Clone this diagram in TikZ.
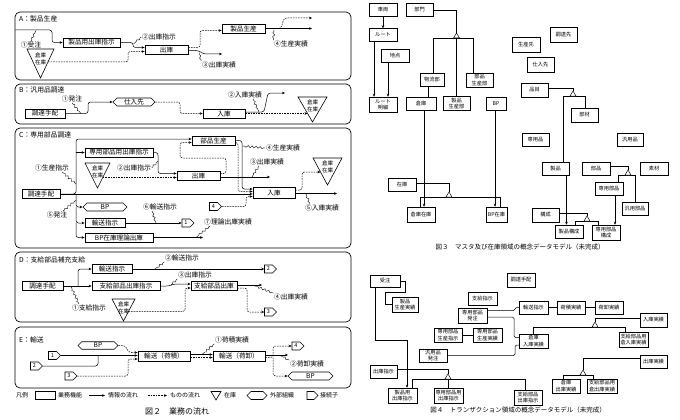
\documentclass[tikz,border=0pt]{standalone}
\usepackage{fontspec}
\setmainfont{Noto Sans CJK JP}
\usetikzlibrary{arrows.meta,shapes.symbols,decorations.pathmorphing}
\newcommand\fsz[2]{\fontsize{#1}{#2}\selectfont}
\begin{document}
\begin{tikzpicture}[x=1pt,y=-1pt,
 panel/.style={draw, line width=0.7pt, rounded corners=5pt},
 ttl/.style={anchor=west, inner sep=0pt, font=\fsz{6.8}{7.5}},
 fn/.style={draw, line width=0.8pt, inner sep=0pt, minimum height=9pt, font=\fsz{6.6}{7.5}},
 ext/.style={draw, line width=0.6pt, signal, signal to=west and east, inner sep=0pt, minimum height=8pt, font=\fsz{6.6}{7.5}},
 con/.style={draw, line width=0.6pt, signal, signal to=east, inner sep=0pt, minimum height=8pt, minimum width=12pt, font=\fsz{5.5}{6}},
 info/.style={line width=0.5pt, rounded corners=2.5pt, -{Stealth[length=3pt,width=2.6pt]}},
 plain/.style={line width=0.5pt, rounded corners=2.5pt},
 thing/.style={info, dash pattern=on 1.6pt off 1pt},
 sq/.style={line width=0.4pt, decorate, decoration={snake, amplitude=1pt, segment length=4pt, pre length=2pt, post length=2pt}},
 lbl/.style={inner sep=0.5pt, font=\fsz{6.8}{7.5}},
 stk/.style={inner sep=0pt, font=\fsz{5.5}{6}},
 stock/.style={draw, line width=0.6pt},
 lg/.style={anchor=west, inner sep=0pt, font=\fsz{6}{6.5}},
 ent/.style={draw, line width=0.5pt, inner sep=0pt, minimum height=13pt, align=center, font=\fsz{5.2}{6.2}},
 ln/.style={line width=0.5pt},
 arr/.style={line width=0.5pt, -{Stealth[length=3pt,width=2.6pt]}},
 gen/.style={draw, line width=0.5pt, fill=white},
 captxt/.style={inner sep=0pt, font=\fsz{6.5}{7}}]
\fill[white] (0,0) rectangle (680,420);
\useasboundingbox (0,0) rectangle (680,420);

% ================= Panel A
\draw[panel] (15,12) rectangle (351,80);
\node[ttl] (tA) at (19,19) {A：製品生産};
\node[fn, minimum width=57pt] (a1) at (91.5,42.5) {製品用出庫指示};
\node[fn, minimum width=43pt] (a2) at (166.5,49.5) {出庫};
\node[fn, minimum width=43pt] (a3) at (243.5,28.5) {製品生産};
\draw[stock] (27,49) -- (54,49) -- (40.5,78) -- cycle;
\node[stk] (sa1) at (40.5,55) {倉庫};
\node[stk] (sa2) at (40.5,62) {在庫};
\coordinate (a0) at (15.3,30);
\draw[info] (a0) -- (52,30) -- (52,42.5) -- (a1.west);
\node[lbl] (la1) at (31,45) {①受注};
\draw[sq] (la1.north) -- (36,30.5);
\draw[info] (a1.east) -- (133,42.5) -- (133,47.5) -- ([yshift=2pt]a2.west);
\node[lbl] (la2) at (159,37) {②出庫指示};
\draw[sq] (la2.west) -- (133.5,44);
\coordinate (sa) at (48,62);
\draw[thing] (sa) -- (128,62) -- (128,51.5) -- ([yshift=-2pt]a2.west);
\draw[thing] ([yshift=2pt]a2.east) -- (200,47.5) -- (200,30.5) -- ([yshift=-2pt]a3.west);
\coordinate (a2o) at (222,54);
\draw[info] ([yshift=-1pt]a2.east) -- (198,50.5) -- (204,54) -- (a2o);
\node[lbl] (la3) at (219,65) {③出庫実績};
\draw[sq] (la3.north west) -- (199,52.5);
\coordinate (a3o1) at (312,18);
\coordinate (a3o2) at (312,28.5);
\draw[thing] (a3.east) -- (281,28.5) -- (284,18) -- (a3o1);
\draw[info] (a3.east) -- (a3o2);
\node[lbl] (la4) at (291,44) {④生産実績};
\draw[sq] (la4.north west) -- (274,29.5);

% ================= Panel B
\draw[panel] (15,84) rectangle (351,124);
\node[ttl] (tB) at (19,90) {B：汎用品調達};
\node[fn, minimum width=40pt] (b1) at (45,113.5) {調達手配};
\node[ext, minimum width=42pt] (b2) at (134,102) {仕入先};
\node[fn, minimum width=42pt] (b3) at (224,113.5) {入庫};
\draw[info] (b1.east) -- (88,113.5) -- (88,102) -- (b2.west);
\node[lbl] (lb1) at (72,99) {①発注};
\draw[sq] (lb1.south) -- (81,113.5);
\draw[thing] (b2.east) -- (180,102) -- (180,113.5) -- (b3.west);
\draw[stock] (298,97) -- (327,97) -- (312.5,122) -- cycle;
\node[stk] (sb1) at (312.5,102) {倉庫};
\node[stk] (sb2) at (312.5,109) {在庫};
\coordinate (sb) at (307.5,113.5);
\draw[thing] (b3.east) -- (sb);
\coordinate (bo) at (285,93);
\draw[info] ([yshift=1.5pt]b3.east) -- (264,112) -- (268,93) -- (bo);
\node[lbl] (lb2) at (245,95) {②入庫実績};
\draw[sq] ([xshift=8pt]lb2.south) -- (259,112);

% ================= Panel C
\draw[panel] (15,128) rectangle (351,248);
\node[ttl] (tC) at (19,135) {C：専用部品調達};
\node[fn, minimum width=38pt] (c1) at (41,194) {調達手配};
\node[fn, minimum width=68pt] (c2) at (119,152.5) {専用部品用出庫指示};
\node[fn, minimum width=43pt] (c3) at (213.5,140.5) {部品生産};
\node[fn, minimum width=43pt] (c4) at (198.5,175.5) {出庫};
\node[fn, minimum width=42pt, minimum height=11pt] (c5) at (274,192.5) {入庫};
\node[ext, minimum width=44pt] (c6) at (105,207) {BP};
\node[fn, minimum width=40pt] (c7) at (105,223) {輸送指示};
\node[fn, minimum width=68pt] (c8) at (119,237.5) {BP在庫理論出庫};
\node[con] (cc1) at (186,223) {1};
\node[con] (cc4) at (213.5,206.5) {4};
\coordinate (cj0) at (76,194);
\coordinate (cj1) at (76,152.5);
\coordinate (cj2) at (76,207);
\coordinate (cj3) at (76,223);
\draw[info] (c1.east) -- (cj0) -- (76,139) -- ([yshift=1.5pt]c3.west);
\draw[info] (cj1) -- (c2.west);
\draw[info] (cj0) -- (cj2) -- (c6.west);
\draw[info] (cj2) -- (cj3) -- (c7.west);
\draw[info] (cj3) -- (76,237.5) -- (c8.west);
\draw[info] (c1.east) -- ([yshift=-1.5pt]c5.west);
\node[lbl] (lc1) at (52,168) {①生産指示};
\draw[sq] ([xshift=10pt]lc1.south) -- (76,184);
\node[lbl] (lc5) at (57,215) {⑤発注};
\draw[sq] ([xshift=6pt]lc5.north) -- (76,200);
\draw[stock] (85,163) -- (110,163) -- (97.5,188) -- cycle;
\node[stk] (sc1) at (97.5,168) {倉庫};
\node[stk] (sc2) at (97.5,175) {在庫};
\node[lbl] (lc2) at (134,168) {②出庫指示};
\draw[sq] (lc2.east) -- (158,161);
\draw[info] (c2.east) -- (158,152.5) -- (158,173.5) -- ([yshift=2pt]c4.west);
\coordinate (sc) at (102.8,177.5);
\draw[thing] (sc) -- ([yshift=-2pt]c4.west);
\draw[thing] ([yshift=2pt]c4.east) -- (226,173.5) -- (226,158) -- (180,158) -- (180,142.5) -- ([yshift=-2pt]c3.west);
\coordinate (c4o) at (270,177);
\draw[info] ([yshift=-1.5pt]c4.east) -- (c4o);
\node[lbl] (lc3) at (267,162) {③出庫実績};
\draw[sq] ([xshift=-8pt]lc3.south) -- (252,177);
\draw[info] (c3.east) -- (242,140.5) -- (242,189) -- ([yshift=3.5pt]c5.west);
\draw[thing] ([yshift=-2pt]c3.east) -- (238,142.5) -- (238,191.5) -- ([yshift=1pt]c5.west);
\draw[thing] (cc4.east) -- (246,206.5) -- (246,196.5) -- ([yshift=-4pt]c5.west);
\node[lbl] (lc4) at (283,148) {④生産実績};
\draw[sq] (lc4.west) -- (242.5,146);
\draw[stock] (313,158) -- (342,158) -- (327.5,185) -- cycle;
\node[stk] (sc3) at (327.5,163) {倉庫};
\node[stk] (sc4) at (327.5,170) {在庫};
\coordinate (sc2) at (320.5,172);
\draw[thing] ([yshift=2.5pt]c5.east) -- (302,190) -- (302,172) -- (sc2);
\coordinate (c5o) at (337,193.5);
\draw[info] ([yshift=-1pt]c5.east) -- (c5o);
\node[lbl] (lc5b) at (322,208) {⑤入庫実績};
\draw[sq] ([xshift=-12pt]lc5b.north) -- (306,194);
\node[lbl] (lc6) at (160,207) {⑥輸送指示};
\draw[sq] ([xshift=-8pt]lc6.south) -- (156,223);
\draw[info] (c7.east) -- (cc1.west);
\coordinate (c8o) at (203,237.5);
\draw[info] (c8.east) -- (c8o);
\node[lbl] (lc7) at (228,222) {⑦理論出庫実績};
\draw[sq] ([xshift=-18pt]lc7.south) -- (196,237.5);

% ================= Panel D
\draw[panel] (15,252) rectangle (351,322);
\node[ttl] (tD) at (19,260) {D：支給部品補充支給};
\node[fn, minimum width=41pt] (d1) at (42.5,286) {調達手配};
\node[fn, minimum width=40pt] (d2) at (112,269) {輸送指示};
\node[fn, minimum width=68pt] (d3) at (126,286) {支給部品出庫指示};
\node[fn, minimum width=46pt] (d4) at (214,286) {支給部品出庫};
\node[con] (dc2) at (268.5,269) {2};
\node[con] (dc3) at (268.5,312) {3};
\coordinate (dj) at (78,286);
\draw[info] (d1.east) -- (d3.west);
\draw[info] (dj) -- (78,269) -- (d2.west);
\node[lbl] (ld1) at (89,308) {①支給指示};
\draw[sq] ([xshift=-10pt]ld1.north) -- (71,286.5);
\draw[stock] (112,299) -- (135,299) -- (123.5,321) -- cycle;
\node[stk] (sd1) at (123.5,304) {倉庫};
\node[stk] (sd2) at (123.5,311) {在庫};
\coordinate (sd) at (128.5,311.5);
\draw[thing] (sd) -- (185,311.5) -- (185,288) -- ([yshift=-2pt]d4.west);
\draw[info] (d3.east) -- (169,286) -- (174,284) -- ([yshift=2pt]d4.west);
\node[lbl] (ld3) at (195,275) {③出庫指示};
\draw[sq] (ld3.south west) -- (171,285);
\draw[info] (d2.east) -- (dc2.west);
\node[lbl] (ld2) at (182,258) {②輸送指示};
\draw[sq] (ld2.south west) -- (155,269);
\coordinate (d4o) at (262,285);
\draw[info] ([yshift=1pt]d4.east) -- (d4o);
\node[lbl] (ld4) at (291,297) {④出庫実績};
\draw[sq] (ld4.north west) -- (254,285.5);
\draw[thing] ([yshift=-2pt]d4.east) -- (247,288) -- (247,312) -- (dc3.west);

% ================= Panel E
\draw[panel] (15,327) rectangle (351,388);
\node[ttl] (tE) at (19,340) {E：輸送};
\node[ext, minimum width=40pt, minimum height=7.5pt] (e1) at (98,345.5) {BP};
\node[con] (ec1) at (52.5,355.5) {1};
\node[con] (ec2) at (34.5,366) {2};
\node[con] (ec3) at (69,376) {3};
\node[fn, minimum width=52pt, minimum height=10pt] (e2) at (164,356) {輸送（荷積）};
\node[fn, minimum width=52pt, minimum height=10pt] (e3) at (239,356) {輸送（荷卸）};
\node[con] (ec4) at (296,346) {4};
\node[ext, minimum width=45pt] (e4) at (310.5,376) {BP};
\coordinate (ej) at (98,355.5);
\draw[info] (ec1.east) -- ([yshift=0.5pt]e2.west);
\draw[plain] (ec2.east) -- (98,366) -- (ej);
\draw[thing] (e1.east) -- (125,345.5) -- (129,352.5) -- ([yshift=3.5pt]e2.west);
\draw[thing] (ec3.east) -- (128,376) -- (128,359) -- ([yshift=-3pt]e2.west);
\draw[info] ([yshift=1.5pt]e2.east) -- ([yshift=1.5pt]e3.west);
\draw[thing] ([yshift=-1.5pt]e2.east) -- ([yshift=-1.5pt]e3.west);
\node[lbl] (le1) at (232,340) {①荷積実績};
\draw[sq] (le1.south west) -- (202,354.5);
\coordinate (ej2) at (273,357.5);
\draw[thing] ([yshift=-1.5pt]e3.east) -- (ej2) -- (273,346) -- (ec4.west);
\draw[thing] (ej2) -- (273,376) -- (e4.west);
\coordinate (e3o) at (288,355);
\draw[info] ([yshift=1pt]e3.east) -- (e3o);
\node[lbl] (le2) at (307,364) {②荷卸実績};
\draw[sq] (le2.north west) -- (280,355.5);

% ================= Legend
\node[lg] (lg0) at (16,395.5) {凡例};
\node[draw, line width=0.7pt, minimum width=20pt, minimum height=8pt, inner sep=0pt] (lg1) at (45,395.5) {};
\node[lg] (lg2) at (58,395.5) {業務機能};
\coordinate (lga) at (89,395.5);
\coordinate (lgb) at (105,395.5);
\draw[info] (lga) -- (lgb);
\node[lg] (lg3) at (108,395.5) {情報の流れ};
\coordinate (lgc) at (148,395.5);
\coordinate (lgd) at (167,395.5);
\draw[thing] (lgc) -- (lgd);
\node[lg] (lg4) at (170,395.5) {ものの流れ};
\draw[stock] (211,391.5) -- (221,391.5) -- (216,400) -- cycle;
\node[lg] (lg5) at (224,395.5) {在庫};
\node[ext, minimum width=20pt, minimum height=8pt] (lg6) at (257,395.5) {};
\node[lg] (lg7) at (270,395.5) {外部組織};
\node[con, minimum width=11pt] (lg8) at (310.5,395.5) {};
\node[lg] (lg9) at (320,395.5) {接続子};
\node[inner sep=0pt, font=\fsz{8}{9}] (cap2) at (177,411) {図２　業務の流れ};

% ================= Fig 3
\node[ent, minimum width=28pt] (m1) at (383,10) {車両};
\node[ent, minimum width=27pt] (m2) at (419.5,10) {部門};
\node[ent, minimum width=28pt] (m3) at (383,35) {ルート};
\node[ent, minimum width=28pt] (m4) at (395,55.5) {地点};
\node[ent, minimum width=28pt, minimum height=15pt] (m5) at (383,104.5) {ルート\\明細};
\node[ent, minimum width=24pt] (m6) at (432,79.5) {物流部};
\node[ent, minimum width=27pt, minimum height=14pt] (m7) at (479.5,80) {部品\\生産部};
\node[ent, minimum width=30pt] (m8) at (421,103.5) {倉庫};
\node[ent, minimum width=27pt, minimum height=14pt] (m9) at (456.5,103.5) {製品\\生産部};
\node[ent, minimum width=20pt] (m10) at (496,103.5) {BP};
\node[ent, minimum width=28pt] (m11) at (402,185) {在庫};
\node[ent, minimum width=28pt, minimum height=15pt] (m12) at (421,214.5) {倉庫在庫};
\node[ent, minimum width=21pt, minimum height=15pt] (m13) at (496.5,214.5) {BP在庫};
\node[ent, minimum width=27pt, minimum height=15pt] (m14) at (563.5,34.5) {調達先};
\node[ent, minimum width=28pt, minimum height=15pt] (m15) at (526,44.5) {生産先};
\node[ent, minimum width=27pt, minimum height=15pt] (m16) at (540.5,64.5) {仕入先};
\node[ent, minimum width=27pt, minimum height=14pt] (m17) at (534.5,90) {品目};
\node[ent, minimum width=27pt, minimum height=14pt] (m18) at (584.5,115) {部材};
\node[ent, minimum width=27pt] (m19) at (535.5,139.5) {専用品};
\node[ent, minimum width=26pt] (m20) at (630,139.5) {汎用品};
\node[ent, minimum width=27pt] (m21) at (555.5,168.5) {製品};
\node[ent, minimum width=28pt] (m22) at (596,168.5) {部品};
\node[ent, minimum width=28pt] (m23) at (654,168.5) {素材};
\node[ent, minimum width=28pt] (m24) at (609,188.5) {専用部品};
\node[ent, minimum width=26pt] (m25) at (635,208.5) {汎用部品};
\node[ent, minimum width=27pt, minimum height=14pt] (m26) at (545.5,215) {構成};
\node[ent, minimum width=28pt] (m27) at (569,231.5) {製品構成};
\node[ent, minimum width=28pt, minimum height=15pt] (m28) at (606,232.5) {専用部品\\構成};
\draw[arr] (m1.south) -- (m3.north);
\draw[arr] ([xshift=-9pt]m3.south) -- ([xshift=-9pt]m3.south |- m5.north);
\draw[arr] ([xshift=-7pt]m4.south) -- ([xshift=-7pt]m4.south |- m5.north);
\coordinate (g1) at (456.5,33);
\coordinate (g1b) at (456.5,38);
\coordinate (g1l) at (433,38);
\coordinate (g1r) at (473,38);
\draw[ln] (m2.east) -| (g1);
\draw[ln] (g1l) -- (g1r);
\draw[ln] (g1l) -- (g1l |- m6.north);
\draw[ln] (g1r) -- (g1r |- m7.north);
\draw[ln] (g1b) -- (m9.north);
\draw[gen] (g1) -- ++(-3,5) -- ++(6,0) -- cycle;
\draw[ln] ([xshift=-4pt]m6.south) -- ([xshift=-4pt]m6.south |- m8.north);
\draw[arr] ([xshift=3pt]m8.south) -- ([xshift=3pt]m8.south |- m12.north);
\draw[arr] ([xshift=-1pt]m10.south) -- ([xshift=-1pt]m10.south |- m13.north);
\coordinate (g2) at (449,192);
\coordinate (g2l) at (420,197);
\coordinate (g2r) at (500,197);
\draw[ln] ([yshift=2pt]m11.east) -| (g2);
\draw[ln] (g2l) -- (g2r);
\draw[ln] (g2l) -- (g2l |- m12.north);
\draw[ln] (g2r) -- (g2r |- m13.north);
\draw[gen] (g2) -- ++(-3,5) -- ++(6,0) -- cycle;
\coordinate (g3) at (573,91);
\coordinate (g3l) at (563,96);
\coordinate (g3r) at (585,96);
\draw[ln] ([yshift=2pt]m17.east) -| (g3);
\draw[ln] (g3l) -- (g3r);
\draw[ln] (g3l) -- (g3l |- m21.north);
\draw[ln] (g3r) -- (g3r |- m18.north);
\draw[gen] (g3) -- ++(-3,5) -- ++(6,0) -- cycle;
\coordinate (g4) at (628,170);
\coordinate (g4l) at (618,175);
\coordinate (g4r) at (635,175);
\draw[ln] ([yshift=2pt]m22.east) -| (g4);
\draw[ln] (g4l) -- (g4r);
\draw[ln] (g4l) -- (g4l |- m24.north);
\draw[ln] (g4r) -- (g4r |- m25.north);
\draw[gen] (g4) -- ++(-3,5) -- ++(6,0) -- cycle;
\coordinate (g5) at (587,216);
\coordinate (g5l) at (575,221);
\coordinate (g5r) at (598,221);
\draw[ln] ([yshift=2pt]m26.east) -| (g5);
\draw[ln] (g5l) -- (g5r);
\draw[ln] (g5l) -- (g5l |- m27.north);
\draw[ln] (g5r) -- (g5r |- m28.north);
\draw[gen] (g5) -- ++(-3,5) -- ++(6,0) -- cycle;
\draw[arr] ([xshift=11pt]m21.south) -- ([xshift=11pt]m21.south |- m27.north);
\draw[arr] ([xshift=6pt]m24.south) -- ([xshift=6pt]m24.south |- m28.north);
\node[captxt] (cap3) at (520,247) {図３　マスタ及び在庫領域の概念データモデル（未完成）};

% ================= Fig 4
\node[ent, minimum width=30pt, minimum height=12pt] (t1) at (385,281) {受注};
\node[ent, minimum width=26pt, minimum height=15pt] (t2) at (405,304.5) {製品\\生産実績};
\node[ent, minimum width=28pt, minimum height=14pt] (t3) at (521,280) {調達手配};
\node[ent, minimum width=29pt] (t4) at (482.5,298.5) {支給指示};
\node[ent, minimum width=29pt, minimum height=15pt] (t5) at (472.5,315.5) {専用部品\\発注};
\node[ent, minimum width=29pt] (t6) at (533.5,307.5) {輸送指示};
\node[ent, minimum width=28pt] (t7) at (571,307.5) {荷積実績};
\node[ent, minimum width=28pt] (t8) at (609,307.5) {荷卸実績};
\node[ent, minimum width=27pt, minimum height=14pt] (t9) at (653.5,320) {入庫実績};
\node[ent, minimum width=29pt, minimum height=14pt] (t10) at (533.5,341) {倉庫\\入庫実績};
\node[ent, minimum width=29pt, minimum height=15pt] (t11) at (633.5,339.5) {支給部品用\\倉入庫実績};
\node[ent, minimum width=28pt, minimum height=14pt] (t12) at (448,335) {専用部品\\生産指示};
\node[ent, minimum width=29pt, minimum height=14pt] (t13) at (487.5,335) {専用部品\\生産実績};
\node[ent, minimum width=28pt] (t14) at (433,355.5) {汎用品\\発注};
\node[ent, minimum width=27pt] (t15) at (383.5,371.5) {出庫指示};
\node[ent, minimum width=27pt] (t16) at (653.5,361.5) {出庫実績};
\node[ent, minimum width=29pt, minimum height=15pt] (t17) at (402.5,395.5) {製品用\\出庫指示};
\node[ent, minimum width=29pt, minimum height=15pt] (t18) at (448.5,395.5) {専用部品用\\出庫指示};
\node[ent, minimum width=28pt, minimum height=15pt] (t19) at (528,397.5) {支給部品\\出庫指示};
\node[ent, minimum width=28pt, minimum height=14pt] (t20) at (566,386) {倉庫\\出庫実績};
\node[ent, minimum width=30pt, minimum height=14pt] (t21) at (602,386) {支給部品用\\倉出庫実績};
\draw[ln] (t1.east) -- (405,281) -- (405,292) -- (385,292) -- (385,304.5) -- (t2.west);
\draw[arr] ([xshift=-10pt]t1.south) -- (375,340) -- (407,340) -- ([xshift=4.5pt]t17.north);
\draw[ln] (t12.east) -- (t13.west);
\draw[ln] (t6.east) -- (t7.west);
\draw[ln] (t7.east) -- (t8.west);
\draw[ln, rounded corners=1.5pt] ([yshift=5pt]t5.east) -- (515,310.5) -- (515,307.5) -- (t6.west);
\draw[ln, rounded corners=1.5pt] ([yshift=-1.5pt]t5.east) -- (514,317) -- (514,337.5) -- ([yshift=3.5pt]t10.west);
\draw[ln, rounded corners=1.5pt] (t14.east) -- (515,355.5) -- (515,345) -- ([yshift=-4pt]t10.west);
\coordinate (g6) at (595,322);
\coordinate (g6l) at (533,327);
\coordinate (g6r) at (625,327);
\draw[ln] ([yshift=2pt]t9.west) -| (g6);
\draw[ln] (g6l) -- (g6r);
\draw[ln] (g6l) -- (g6l |- t10.north);
\draw[ln] (g6r) -- (g6r |- t11.north);
\draw[gen] (g6) -- ++(-3,5) -- ++(6,0) -- cycle;
\coordinate (g7) at (583,370);
\coordinate (g7l) at (563,375);
\coordinate (g7r) at (593,375);
\draw[ln] ([yshift=3pt]t16.west) -| (g7);
\draw[ln] (g7l) -- (g7r);
\draw[ln] (g7l) -- (g7l |- t20.north);
\draw[ln] (g7r) -- (g7r |- t21.north);
\draw[gen] (g7) -- ++(-3,5) -- ++(6,0) -- cycle;
\coordinate (g8) at (448,374);
\coordinate (g8b) at (448,379);
\coordinate (g8l) at (412,379);
\coordinate (g8r) at (525,379);
\draw[ln] ([yshift=2pt]t15.east) -| (g8);
\draw[ln] (g8l) -- (g8r);
\draw[ln] (g8l) -- (g8l |- t17.north);
\draw[ln] (g8b) -- (g8b |- t18.north);
\draw[ln] (g8r) -- (g8r |- t19.north);
\draw[gen] (g8) -- ++(-3,5) -- ++(6,0) -- cycle;
\node[captxt] (cap4) at (518,410) {図４　トランザクション領域の概念データモデル（未完成）};
\end{tikzpicture}
\end{document}
